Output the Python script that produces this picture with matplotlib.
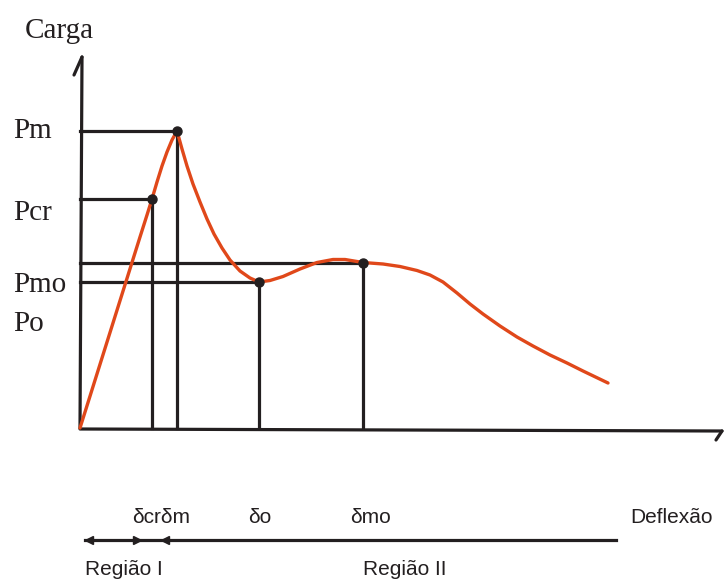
import matplotlib.pyplot as plt

# Curve (deflection, load) in drawing units
curve_x = [0, 60, 67, 72, 77, 82, 87, 92, 97,
           102, 107, 113, 120, 127, 134, 142, 150, 160, 170, 179,
           190, 203, 220, 237, 253, 265, 283, 303, 320, 337, 350, 363,
           377, 390, 403, 420, 437, 453, 470, 487, 503, 528]
curve_y = [0, 191, 213, 229, 246, 262, 276, 288, 297,
           279, 262, 244, 226, 209, 194, 180, 168, 157, 150, 146,
           147.5, 151.5, 159, 165.5, 168.5, 168.5, 165.5, 164, 161.5, 157.5, 153, 146,
           135, 124, 114, 102, 91, 82, 73, 65, 57, 45]

# Characteristic points: (deflection, load)
point_names = ['cr', 'm', 'o', 'mo']
point_x = [72, 97, 179, 283]
point_y = [229, 297, 146, 165.5]

# Load labels on the left (text, baseline height)
load_labels = ['Pm', 'Pcr', 'Pmo', 'Po']
load_label_y = [290, 208, 136, 97]

# Deflection labels below (text, left position)
defl_labels = ['δcrδm', 'δo', 'δmo']
defl_label_x = [52, 168, 270]

orange = '#e0481a'
black = '#231f20'

fig = plt.figure(figsize=(7.26, 5.83), dpi=100)
ax = fig.add_axes([0, 0, 1, 1])
ax.set_xlim(-80, 646)
ax.set_ylim(-155, 428)
ax.axis('off')

# axes with hand-drawn hooks
ax.plot([0, 2], [0, 371], color=black, lw=2.3, solid_capstyle='round')
ax.plot([2, -6], [371, 353], color=black, lw=2.3, solid_capstyle='round')
ax.plot([0, 642], [-1, -3], color=black, lw=2.3, solid_capstyle='round')
ax.plot([642, 636], [-3, -12], color=black, lw=2.3, solid_capstyle='round')

# guide lines to each characteristic point
for px, py in zip(point_x, point_y):
    ax.plot([0, px], [py, py], color=black, lw=2.3)
    ax.plot([px, px], [0, py], color=black, lw=2.3)

ax.plot(curve_x, curve_y, color=orange, lw=2.4, solid_capstyle='round',
        solid_joinstyle='round', zorder=3)
ax.plot(point_x, point_y, 'o', color=black, ms=6.5, zorder=4)

serif = 'Liberation Serif'
sans = 'Liberation Sans'
ax.text(-55, 390, 'Carga', fontsize=21, family=serif, color=black, va='baseline')
for lab, ly in zip(load_labels, load_label_y):
    ax.text(-67, ly, lab, fontsize=21, family=serif, color=black, va='baseline')

for lab, lx in zip(defl_labels, defl_label_x):
    ax.text(lx, -95, lab, fontsize=15, family=sans, color=black, va='baseline')
ax.text(550, -95, 'Deflexão', fontsize=15, family=sans, color=black, va='baseline')

# regions bar
ax.plot([5, 536], [-112, -112], color=black, lw=2.3)
ax.plot([9, 85], [-112, -112], '<', color=black, ms=6)
ax.plot([57], [-112], '>', color=black, ms=6)
ax.text(5, -147, 'Região I', fontsize=15, family=sans, color=black, va='baseline')
ax.text(283, -147, 'Região II', fontsize=15, family=sans, color=black, va='baseline')

fig.savefig('out.png', dpi=100)
